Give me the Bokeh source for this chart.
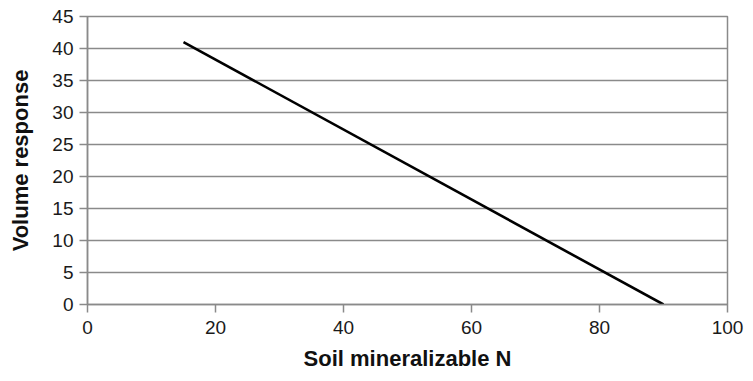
from bokeh.plotting import figure
from bokeh.models import Range1d, FixedTicker
from bokeh.embed import file_html
from bokeh.resources import INLINE

# Data
soil_n = [15, 90]
volume_response = [41, 0]
x_ticks = [0, 20, 40, 60, 80, 100]
y_ticks = [0, 5, 10, 15, 20, 25, 30, 35, 40, 45]

GRID = "#8a8a8a"
FONT = "Liberation Sans"

p = figure(width=745, height=373, output_backend="svg", toolbar_location=None,
           x_range=Range1d(0, 100), y_range=Range1d(0, 45),
           min_border_left=87, min_border_right=18, min_border_top=16, min_border_bottom=60)

p.line(soil_n, volume_response, line_color="black", line_width=2.6)

p.xgrid.visible = False
p.ygrid.ticker = FixedTicker(ticks=y_ticks)
p.ygrid.grid_line_color = GRID
p.ygrid.grid_line_width = 1.5

p.outline_line_color = GRID
p.outline_line_width = 1.5

p.xaxis.ticker = FixedTicker(ticks=x_ticks)
p.yaxis.ticker = FixedTicker(ticks=y_ticks)

for ax in (p.xaxis[0], p.yaxis[0]):
    ax.axis_line_color = GRID
    ax.axis_line_width = 1.5
    ax.major_tick_line_color = GRID
    ax.major_tick_line_width = 1.5
    ax.major_tick_in = 0
    ax.major_tick_out = 8
    ax.minor_tick_line_color = None
    ax.major_label_text_font = FONT
    ax.major_label_text_font_size = "19px"
    ax.major_label_text_color = "#1a1a1a"
    ax.axis_label_text_font = FONT
    ax.axis_label_text_font_size = "22px"
    ax.axis_label_text_font_style = "bold"
    ax.axis_label_text_color = "#111111"

p.xaxis.axis_label = "Soil mineralizable N"
p.yaxis.axis_label = "Volume response"
p.xaxis.major_label_standoff = 8
p.yaxis.major_label_standoff = 6
p.xaxis.axis_label_standoff = 9
p.yaxis.axis_label_standoff = 16

open("out.html", "w").write(file_html(p, INLINE))
